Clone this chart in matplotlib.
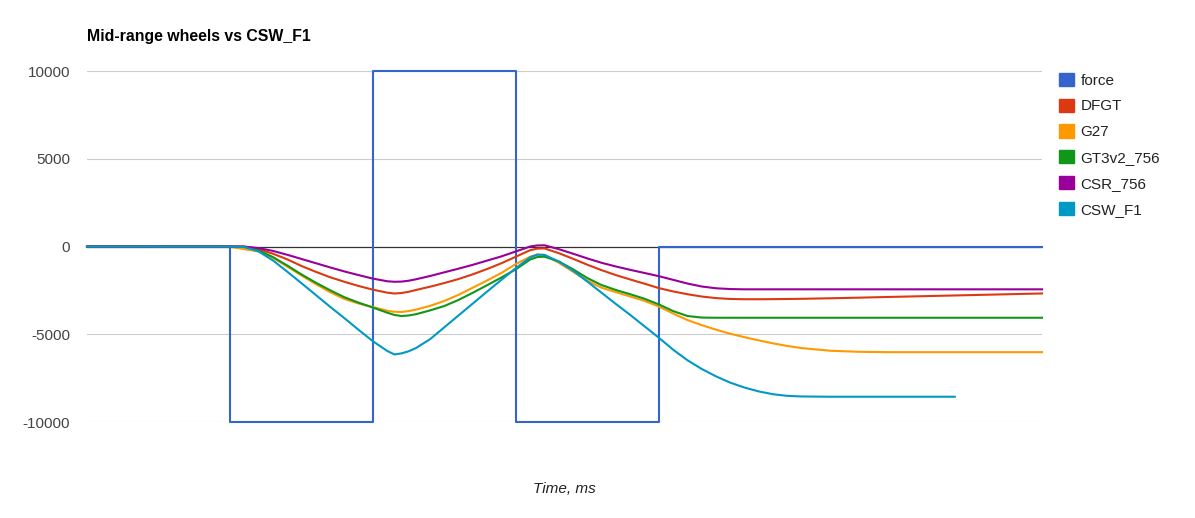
import numpy as np
import matplotlib
matplotlib.use("Agg")
import matplotlib.pyplot as plt
from matplotlib.patches import Patch

plt.rcParams["font.family"] = ["Liberation Sans", "DejaVu Sans"]

nan = np.nan

# force input (step shape)
force_time = [0, 100, 200, 300, 400, 668]
force = [0, -10000, 10000, -10000, 0, 0]

# wheel responses
time_ms = [0, 100, 110, 120, 130, 140, 150, 160, 170, 180, 190, 200,
           210, 215, 220, 225, 230, 240, 250, 260, 270, 280, 290, 300,
           310, 315, 320, 330, 340, 350, 360, 370, 380, 390, 400, 410,
           420, 430, 440, 450, 460, 470, 480, 490, 500, 520, 540, 560,
           580, 600, 607, 620, 640, 660, 668]

dfgt = [0, 0, -10, -150, -410, -730, -1110, -1440, -1750, -2010, -2250, -2460,
        -2630, -2680, -2650, -2580, -2480, -2290, -2080, -1850, -1580, -1280, -950, -580,
        -210, -120, -110, -380, -700, -1040, -1350, -1630, -1880, -2120, -2370, -2560,
        -2720, -2850, -2940, -2990, -3005, -3005, -3000, -2990, -2980, -2950, -2915, -2877,
        -2840, -2803, -2790, -2766, -2728, -2691, -2676]

g27 = [0, -20, -150, -280, -640, -1140, -1650, -2140, -2600, -2990, -3250, -3450,
       -3660, -3720, -3730, -3680, -3600, -3380, -3100, -2750, -2340, -1930, -1500, -1000,
       -580, -470, -480, -930, -1440, -1950, -2350, -2600, -2850, -3100, -3420, -3820,
       -4190, -4480, -4740, -4970, -5170, -5350, -5520, -5670, -5790, -5940, -6000, -6020,
       -6020, -6020, -6020, -6020, -6020, -6020, -6020]

gt3v2_756 = [0, 0, -20, -220, -600, -1080, -1590, -2060, -2490, -2890, -3200, -3480,
             -3770, -3900, -3960, -3930, -3860, -3640, -3390, -3040, -2630, -2200, -1760, -1300,
             -740, -600, -580, -850, -1300, -1800, -2200, -2480, -2720, -2980, -3300, -3680,
             -3960, -4050, -4060, -4060, -4060, -4060, -4060, -4060, -4060, -4060, -4060, -4060,
             -4060, -4060, -4060, -4060, -4060, -4060, -4060]

csr_756 = [0, 0, -5, -90, -250, -470, -710, -950, -1190, -1420, -1630, -1830,
           -1980, -2010, -2000, -1950, -1870, -1680, -1470, -1260, -1040, -800, -560, -280,
           0, 60, 70, -150, -410, -680, -930, -1140, -1330, -1510, -1690, -1900,
           -2110, -2280, -2380, -2425, -2440, -2440, -2440, -2440, -2440, -2440, -2440, -2440,
           -2440, -2440, -2440, -2440, -2440, -2440, -2440]

csw_f1 = [0, 0, -30, -280, -790, -1430, -2090, -2760, -3430, -4080, -4750, -5400,
          -5950, -6150, -6090, -5970, -5790, -5280, -4600, -3920, -3240, -2560, -1890, -1230,
          -620, -460, -480, -860, -1380, -2000, -2640, -3280, -3900, -4550, -5200, -5880,
          -6480, -6980, -7400, -7760, -8040, -8260, -8420, -8510, -8545, -8560, -8560, -8560,
          -8560, -8560, -8560, nan, nan, nan, nan]

series_names = ["DFGT", "G27", "GT3v2_756", "CSR_756", "CSW_F1"]
series_values = [dfgt, g27, gt3v2_756, csr_756, csw_f1]
colors = ["#3366cc", "#dc3912", "#ff9900", "#109618", "#990099", "#0099c6"]
y_ticks = [-10000, -5000, 0, 5000, 10000]


def plotDraw():
    fig = plt.figure(figsize=(11.95, 5.18), dpi=100)
    ax = fig.add_axes([87 / 1195, 1 - 422 / 518, 955 / 1195, 351 / 518])

    for y in y_ticks:
        if y == 0:
            continue
        ax.axhline(y, color="#cccccc", lw=0.8, zorder=0)
    ax.axhline(0, color="#333333", lw=0.9, zorder=1)

    ax.plot(force_time, force, drawstyle="steps-post", color=colors[0], lw=1.5,
            clip_on=False, zorder=2)
    for name, vals, c in zip(series_names, series_values, colors[1:]):
        ax.plot(time_ms, vals, color=c, lw=1.5, clip_on=False, zorder=3,
                solid_joinstyle="round")

    ax.set_xlim(0, 668)
    ax.set_ylim(-10000, 10000)
    ax.set_xticks([])
    ax.set_yticks(y_ticks)
    ax.set_yticklabels([str(v) for v in y_ticks])
    ax.tick_params(axis="y", length=0, pad=12, labelsize=11, labelcolor="#444444")
    for s in ax.spines.values():
        s.set_visible(False)

    ax.set_xlabel("Time, ms", fontsize=11, style="italic", color="#222222")
    ax.xaxis.set_label_coords(0.5, -67 / 351)
    ax.xaxis.label.set_va("center")

    fig.text(87 / 1195, 1 - 37 / 518, "Mid-range wheels vs CSW_F1", fontsize=11.4,
             fontweight="bold", color="#000000", va="center", ha="left")

    handles = [Patch(color=c) for c in colors]
    labels = ["force"] + series_names
    fig.legend(handles, labels, loc="upper left", bbox_to_anchor=(1059 / 1195, 1 - 72.8 / 518),
               frameon=False, fontsize=11, handlelength=0.95, handleheight=0.95,
               handletextpad=0.45, labelspacing=0.72, borderpad=0, borderaxespad=0,
               labelcolor="#222222")

    fig.savefig("out.png", dpi=100)


if __name__ == "__main__":
    plotDraw()
